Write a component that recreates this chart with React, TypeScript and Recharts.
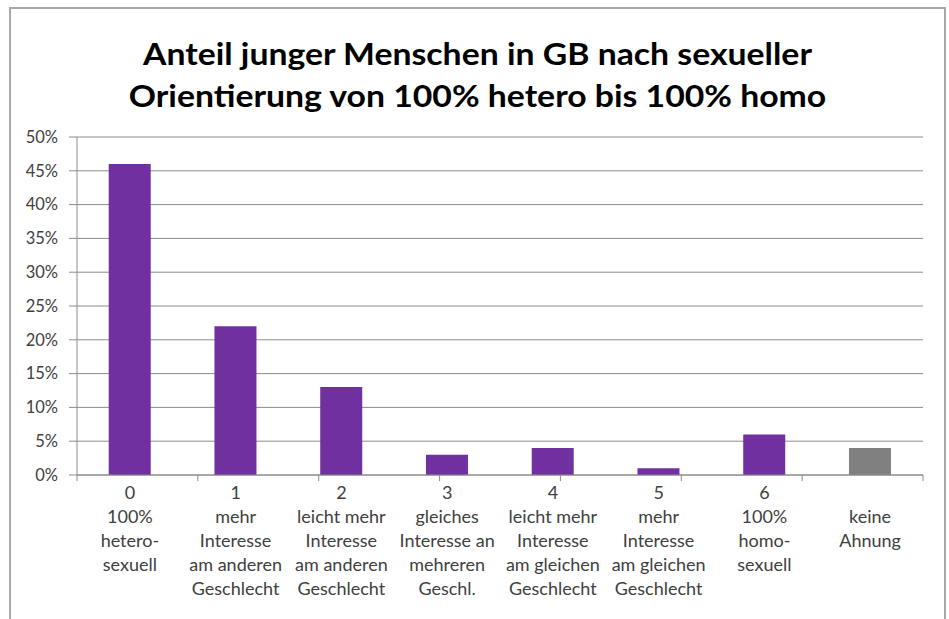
import { BarChart, Bar, XAxis, YAxis, CartesianGrid, Cell, ReferenceLine } from 'recharts';

const codes = ['0', '1', '2', '3', '4', '5', '6', ''];
const labelLines = [
  ['100%', 'hetero-', 'sexuell'],
  ['mehr', 'Interesse', 'am anderen', 'Geschlecht'],
  ['leicht mehr', 'Interesse', 'am anderen', 'Geschlecht'],
  ['gleiches', 'Interesse an', 'mehreren', 'Geschl.'],
  ['leicht mehr', 'Interesse', 'am gleichen', 'Geschlecht'],
  ['mehr', 'Interesse', 'am gleichen', 'Geschlecht'],
  ['100%', 'homo-', 'sexuell'],
  ['keine', 'Ahnung'],
];
const shares = [46, 22, 13, 3, 4, 1, 6, 4];
const barColors = ['#7030a0', '#7030a0', '#7030a0', '#7030a0', '#7030a0', '#7030a0', '#7030a0', '#808080'];
const yTicks = [0, 5, 10, 15, 20, 25, 30, 35, 40, 45, 50];
const edgeTicks = [0, 1, 2, 3, 4, 5, 6, 7, 8];

const data = codes.map((c, i) => ({ code: c, idx: i, share: shares[i] }));

const FONT = 'Lato, "Open Sans", sans-serif';

function CategoryTick(props: any) {
  const { x, y, payload } = props;
  const i = payload.index;
  const lines = [codes[i] || '\u00a0', ...labelLines[i]];
  return (
    <text x={x} y={y} textAnchor="middle" fill="#404040" fontSize={18} fontFamily={FONT}>
      {lines.map((l, k) => (
        <tspan key={k} x={x} dy={k === 0 ? 16 : 24}>
          {l}
        </tspan>
      ))}
    </text>
  );
}

export default function App() {
  return (
    <div style={{ position: 'absolute', left: 0, top: 0, width: 949, height: 619, background: '#fff', overflow: 'hidden', fontFamily: FONT }}>
      <div
        style={{
          position: 'absolute',
          left: 9,
          top: 7,
          width: 937,
          height: 700,
          boxSizing: 'border-box',
          border: '2px solid #a8a8a8',
        }}
      />
      <div
        style={{
          position: 'absolute',
          left: 10,
          width: 935,
          top: 32,
          textAlign: 'center',
          fontSize: 30,
          fontWeight: 700,
          lineHeight: '42px',
          color: '#000',
          transform: 'scaleX(1.125)',
        }}
      >
        <div>Anteil junger Menschen in GB nach sexueller</div>
        <div>Orientierung von 100% hetero bis 100% homo</div>
      </div>
      <div style={{ position: 'absolute', left: 0, top: 0 }}>
        <BarChart width={949} height={619} data={data} margin={{ top: 137, right: 26, bottom: 4, left: 0 }} barCategoryGap="30%">
          <CartesianGrid vertical={false} stroke="#8c8c8c" strokeWidth={1} xAxisId="cat" />
          <XAxis
            xAxisId="cat"
            dataKey="code"
            height={140}
            interval={0}
            axisLine={{ stroke: '#8c8c8c' }}
            tickLine={false}
            tick={<CategoryTick />}
          />
          <XAxis xAxisId="edges" type="number" domain={[0, 8]} ticks={edgeTicks} hide />
          <YAxis
            width={77}
            domain={[0, 50]}
            ticks={yTicks}
            interval={0}
            tickFormatter={(v) => `${v}%`}
            axisLine={{ stroke: '#8c8c8c' }}
            tickLine={{ stroke: '#8c8c8c' }}
            tickSize={8}
            tickMargin={11}
            tick={{ fontSize: 16.5, fill: '#404040', fontFamily: FONT }}
          />
          {edgeTicks.map((t) => (
            <ReferenceLine
              key={t}
              xAxisId="edges"
              segment={[
                { x: t, y: 0 },
                { x: t, y: -0.9 },
              ]}
              stroke="#8c8c8c"
              ifOverflow="visible"
            />
          ))}
          <Bar dataKey="share" xAxisId="cat" isAnimationActive={false}>
            {data.map((d, i) => (
              <Cell key={d.idx} fill={barColors[i]} />
            ))}
          </Bar>
        </BarChart>
      </div>
    </div>
  );
}
